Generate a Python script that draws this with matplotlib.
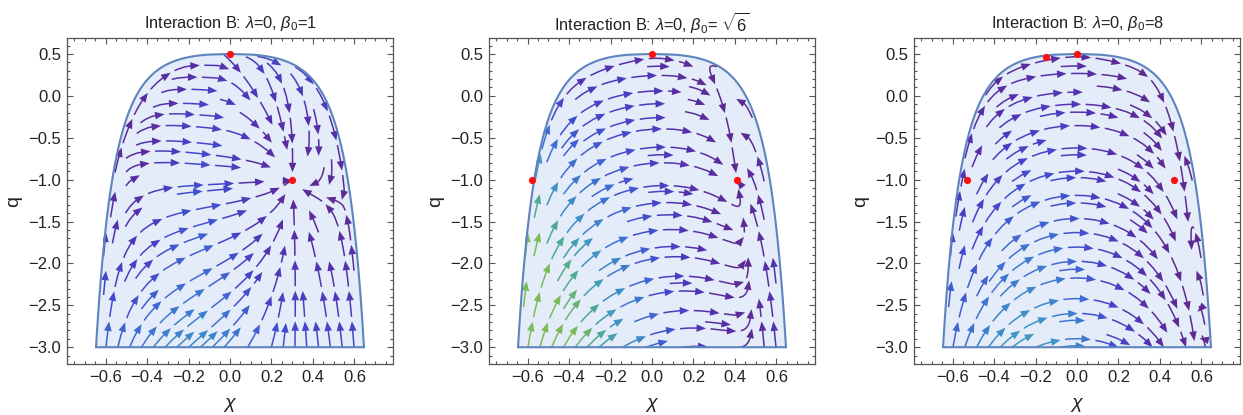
import numpy as np
import matplotlib
matplotlib.use("Agg")
import matplotlib.pyplot as plt
from matplotlib.collections import LineCollection, PolyCollection
from matplotlib.colors import LinearSegmentedColormap, Normalize
from matplotlib.patches import Polygon
from matplotlib.ticker import MultipleLocator, FuncFormatter

plt.rcParams['font.family'] = ['Liberation Sans', 'DejaVu Sans']
plt.rcParams['mathtext.fontset'] = 'custom'
plt.rcParams['mathtext.rm'] = 'Liberation Sans'
plt.rcParams['mathtext.it'] = 'Liberation Sans:italic'
plt.rcParams['mathtext.bf'] = 'Liberation Sans:bold'

# ---------------- data ----------------
TITLES = [r"Interaction B: $\lambda$=0, $\beta_0$=1",
          r"Interaction B: $\lambda$=0, $\beta_0$= $\sqrt{6}$",
          r"Interaction B: $\lambda$=0, $\beta_0$=8"]

# boundary of the physical region (upper arch)
BOUND_Q = [0.5, 0.47, 0.392, 0.133, -0.126, -0.404, -0.723, -1.719, -3.0]
BOUND_CHI = [0.0, 0.173, 0.285, 0.405, 0.477, 0.525, 0.557, 0.608, 0.640]

# red critical points
FIX_X1 = [0.0, 0.30]
FIX_Q1 = [0.5, -1.0]
FIX_X2 = [0.0, -0.58, 0.41]
FIX_Q2 = [0.5, -1.0, -1.0]
FIX_X3 = [-0.15, 0.0, -0.53, 0.47]
FIX_Q3 = [0.46, 0.5, -1.0, -1.0]

XTICKS = [-0.6, -0.4, -0.2, 0.0, 0.2, 0.4, 0.6]
YTICKS = [0.5, 0.0, -0.5, -1.0, -1.5, -2.0, -2.5, -3.0]

P1_S = [-1.0, -0.64, -0.34, 0.51, 1.0]
P1_QL = [-0.6, -0.75, -0.95, -1.0, -1.3]
P1_HS = [-1.0, -0.64, -0.17, 0.2, 1.0]
P1_H = [1.6, 1.0, 1.05, 0.0, 0.0]
M_Q = [-3.0, -2.0, -1.0, -0.3, 0.2, 0.5]
M2 = [2.1, 1.8, 1.3, 0.8, 0.35, 0.3]
M3 = [2.0, 1.9, 1.4, 0.8, 0.25, 0.2]
# colour (speed) scaling per panel
VMAX = [370.0, 215.0, 200.0]
COLW_A = [1.0, 1.0, 0.35]
COLTOP = [1.0, 0.8, 0.45]
DENSITY = [0.8, 0.8, 0.8]

# ---------------- boundary fit ----------------
_bq = np.array(BOUND_Q)
_bc = np.array(BOUND_CHI)
_bw = np.sqrt(1 - 2 * _bq)
_M = np.column_stack([_bw, -_bw * _bc])
CB, DB = np.linalg.lstsq(_M[1:], _bc[1:], rcond=None)[0]


def chim(q):
    w = np.sqrt(np.clip(1 - 2 * q, 1e-10, None))
    return CB * w / (1 + DB * w)


def dchim(q):
    w = np.sqrt(np.clip(1 - 2 * q, 4e-4, None))
    return -CB / (1 + DB * w) ** 2 / w


def ab1(s, q):
    s1 = FIX_X1[1] / chim(FIX_Q1[1])
    A = (np.interp(s, P1_S, P1_QL) - q)
    A = A + 1.1 * np.clip(q + 0.75, 0, None) * np.interp(s, P1_HS, P1_H)
    B = 2.0 * (s1 - s) * (1 - 0.95 * s ** 2)
    return A, B


def ab2(s, q):
    sR = FIX_X2[2] / chim(FIX_Q2[2])
    sN = np.interp(q, [-3, -2, -1, 0.5], [0.35, 0.2, 0.1, 0.1])
    sf = np.where(q < -1, sR + 0.05 * (q + 1), sR + 0.15 * (q + 1))
    sB = np.where(q < -1, sR - 0.04 * (q + 1), sR)
    m = np.interp(q, M_Q, M2)
    A = 0.92 * (sN - s) * (sf - s) * m
    A = A + 1.5 * np.clip(s - sf - 0.08, 0, None)
    B = 1.0 * (sB - s)
    return A, B


def ab3(s, q):
    m = np.interp(q, M_Q, M3)
    A = (0.0 - s) * (0.93 - s) * m
    B = (0.9 - s)
    return A, B


ABS = [ab1, ab2, ab3]


def field(k, chi, q):
    cm = chim(q)
    s = chi / np.maximum(cm, 1e-9)
    A, B = ABS[k](s, q)
    ds = (1 - s ** 2) * B
    U = cm * ds + s * dchim(q) * A
    V = A
    spd = np.hypot(COLW_A[k] * A * 84, cm * ds * 207)
    spd = spd * np.interp(q, [-3.0, 0.5], [1.0, COLTOP[k]])
    return U, V, spd, s


cmap = LinearSegmentedColormap.from_list(
    "mma", [(0.0, "#5E2A8E"), (0.22, "#5430AE"), (0.42, "#4447CC"),
            (0.58, "#3F74D2"), (0.72, "#3E97C2"), (0.86, "#4FAA94"),
            (1.0, "#7DBB5A")])


def get_lines(k):
    X = np.linspace(-0.655, 0.655, 220)
    Q = np.linspace(-3.0, 0.5, 220)
    XX, QQ = np.meshgrid(X, Q)
    U, V, spd, s = field(k, XX, QQ)
    bad = (np.abs(s) > 1.0)
    U = np.ma.masked_where(bad, U)
    V = np.ma.masked_where(bad, V)
    f2, a2 = plt.subplots()
    sp = a2.streamplot(X, Q, U, V, density=DENSITY[k], color='k', linewidth=1,
                       arrowsize=0.01, broken_streamlines=True, minlength=0.06)
    lines = [np.array(sg) for sg in sp.lines.get_segments()]
    plt.close(f2)
    return lines


def draw_streams(ax, k, lines, clip_patch):
    T = ax.transData
    Ti = T.inverted()
    norm = Normalize(0, VMAX[k])
    PIECE, GAP, HL, HW, MINP = 26.0, 4.5, 9.5, 3.8, 13.0
    segs, scol, heads, hcol = [], [], [], []
    for ln in lines:
        if len(ln) < 2:
            continue
        P = T.transform(ln)
        d = np.hypot(*np.diff(P, axis=0).T)
        keep = np.concatenate([[True], d > 1e-6])
        P = P[keep]
        if len(P) < 2:
            continue
        d = np.hypot(*np.diff(P, axis=0).T)
        cum = np.concatenate([[0], np.cumsum(d)])
        total = cum[-1]
        t0 = 0.0
        while t0 + MINP <= total:
            t1 = min(t0 + PIECE, total)
            tipx = np.interp(t1, cum, P[:, 0]); tipy = np.interp(t1, cum, P[:, 1])
            tb = max(t1 - HL, t0)
            bx = np.interp(tb, cum, P[:, 0]); by = np.interp(tb, cum, P[:, 1])
            dv = np.array([tipx - bx, tipy - by])
            nrm = np.hypot(*dv)
            if nrm < 1e-6:
                break
            dv /= nrm
            tip = np.array([tipx, tipy])
            base = tip - dv * HL
            perp = np.array([-dv[1], dv[0]])
            tri = np.array([tip, base + perp * HW, base - perp * HW])
            tl = np.linspace(t0, t1 - HL * 0.6, 10)
            pts = np.column_stack([np.interp(tl, cum, P[:, 0]), np.interp(tl, cum, P[:, 1])])
            mid = Ti.transform(pts[len(pts) // 2])
            _, _, spd, _ = field(k, np.array(mid[0]), np.array(mid[1]))
            col = cmap(norm(float(spd)))
            segs.append(Ti.transform(pts))
            scol.append(col)
            heads.append(Ti.transform(tri))
            hcol.append(col)
            t0 = t1 + GAP
    lc = LineCollection(segs, colors=scol, linewidths=1.1, zorder=3, capstyle='butt')
    pc = PolyCollection(heads, facecolors=hcol, edgecolors='none', zorder=4)
    ax.add_collection(lc)
    ax.add_collection(pc)
    lc.set_clip_path(clip_patch)
    pc.set_clip_path(clip_patch)


fig = plt.figure(figsize=(12.43, 4.15), dpi=100)
LEFTS = [67, 489, 914]
FIXES = [(FIX_X1, FIX_Q1), (FIX_X2, FIX_Q2), (FIX_X3, FIX_Q3)]

qb = np.linspace(-3.0, 0.5, 400)
cb = chim(qb)
reg_x = np.concatenate([-cb, cb[::-1]])
reg_y = np.concatenate([qb, qb[::-1]])

fmt = FuncFormatter(lambda v, p: ("%.1f" % v).replace("-", "\u2212"))

for k in range(3):
    ax = fig.add_axes([LEFTS[k] / 1243, (415 - 38 - 326) / 415, 326 / 1243, 326 / 415])
    ax.set_xlim(-0.786, 0.786)
    ax.set_ylim(-3.2, 0.69)
    fill = Polygon(np.column_stack([reg_x, reg_y]), closed=True, facecolor="#E3ECF8",
                   edgecolor='none', zorder=1)
    ax.add_patch(fill)
    edge = Polygon(np.column_stack([reg_x, reg_y]), closed=True, facecolor='none',
                   edgecolor="#5E84BE", lw=1.5, zorder=5)
    ax.add_patch(edge)
    clip = Polygon(np.column_stack([reg_x * 1.01, reg_y]), closed=True, facecolor='none',
                   edgecolor='none', transform=ax.transData)
    ax.add_patch(clip)
    lines = get_lines(k)
    draw_streams(ax, k, lines, clip)
    fx, fq = FIXES[k]
    ax.plot(fx, fq, 'o', color='#FF1010', ms=5.2, mec='none', zorder=10, clip_on=False)

    ax.set_xticks(XTICKS)
    ax.set_yticks(YTICKS)
    ax.xaxis.set_minor_locator(MultipleLocator(0.05))
    ax.yaxis.set_minor_locator(MultipleLocator(0.1))
    ax.xaxis.set_major_formatter(fmt)
    ax.yaxis.set_major_formatter(fmt)
    ax.tick_params(which='both', direction='in', top=True, right=True,
                   labeltop=False, labelright=False, colors='#555555',
                   labelcolor='#222222', labelsize=12, width=0.8)
    ax.tick_params(which='major', length=4.5, pad=4)
    ax.tick_params(which='minor', length=2.3)
    for sp_ in ax.spines.values():
        sp_.set_color('#555555')
        sp_.set_linewidth(0.9)
    ax.text(0.5, 1.046, TITLES[k], transform=ax.transAxes, ha='center', va='center',
            fontsize=11.8, color='#222222')
    ax.text(0.5, -0.12, "\u03c7", transform=ax.transAxes, ha='center', va='center',
            fontsize=14, style='italic', color='#222222')
    ax.text(-0.165, 0.5, "q", transform=ax.transAxes, ha='center', va='center',
            fontsize=14, rotation=90, color='#222222')

fig.savefig("out.png", dpi=100)
